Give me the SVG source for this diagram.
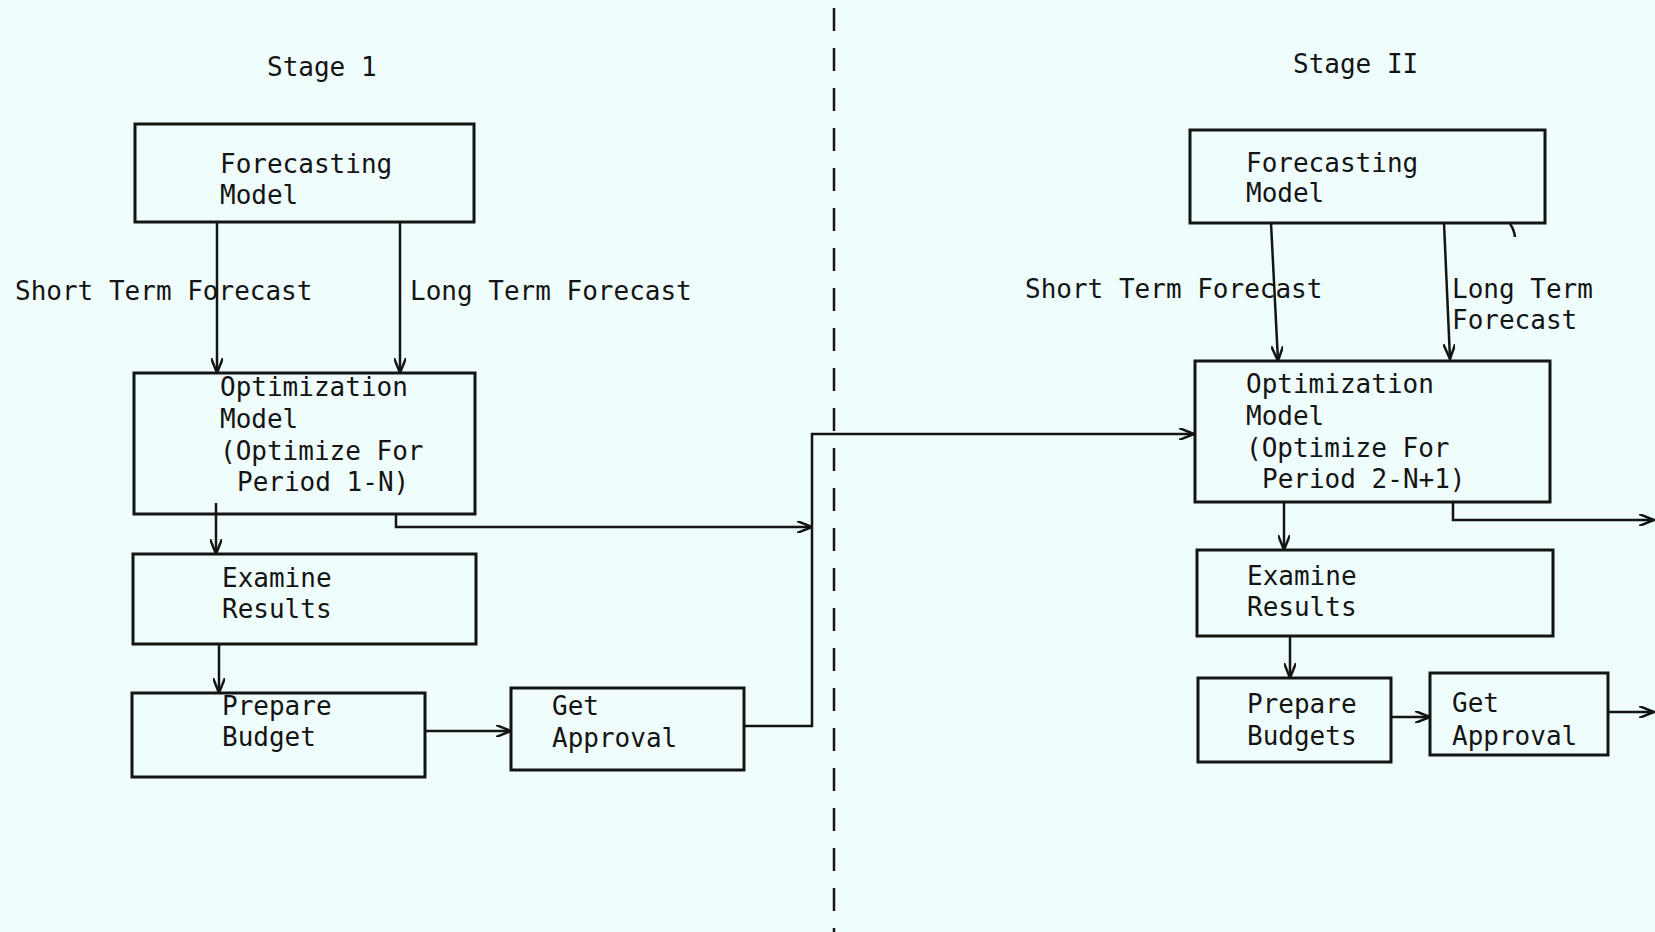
<svg xmlns="http://www.w3.org/2000/svg" width="1655" height="932" viewBox="0 0 1655 932">
<defs>
<style>
.bg{fill:#effdfd}
.box{fill:none;stroke:#141414;stroke-width:3}
.ln{fill:none;stroke:#141414;stroke-width:2.5}
.t{font-family:"DejaVu Sans Mono",monospace;font-size:26px;fill:#141414}
.dash{fill:none;stroke:#141414;stroke-width:2.5;stroke-dasharray:23 17}
</style>
<marker id="ah" viewBox="0 0 16 12" refX="15" refY="6" markerWidth="16" markerHeight="12" markerUnits="userSpaceOnUse" orient="auto">
<path d="M0,0 L15,6 L0,12" fill="none" stroke="#141414" stroke-width="2.5"/>
</marker>
</defs>
<rect class="bg" x="0" y="0" width="1655" height="932"/>

<text class="t" x="267" y="76">Stage 1</text>
<text class="t" x="1293" y="73">Stage II</text>

<g id="divider">
<line class="dash" x1="834" y1="8" x2="834" y2="932"/>
</g>

<g id="s1-forecast">
<rect class="box" x="135" y="124" width="339" height="98"/>
<text class="t" x="220" y="173">Forecasting</text>
<text class="t" x="220" y="204">Model</text>
</g>
<g id="s1-optimize">
<rect class="box" x="134" y="373" width="341" height="141"/>
<text class="t" x="220" y="396">Optimization</text>
<text class="t" x="220" y="428">Model</text>
<text class="t" x="220" y="460">(Optimize For</text>
<text class="t" x="237" y="491">Period 1-N)</text>
</g>
<g id="s1-examine">
<rect class="box" x="133" y="554" width="343" height="90"/>
<text class="t" x="222" y="587">Examine</text>
<text class="t" x="222" y="618">Results</text>
</g>
<g id="s1-prepare">
<rect class="box" x="132" y="693" width="293" height="84"/>
<text class="t" x="222" y="715">Prepare</text>
<text class="t" x="222" y="746">Budget</text>
</g>
<g id="s1-approval">
<rect class="box" x="511" y="688" width="233" height="82"/>
<text class="t" x="552" y="715">Get</text>
<text class="t" x="552" y="747">Approval</text>
</g>

<g id="s2-forecast">
<rect class="box" x="1190" y="130" width="355" height="93"/>
<text class="t" x="1246" y="172">Forecasting</text>
<text class="t" x="1246" y="202">Model</text>
</g>
<g id="s2-optimize">
<rect class="box" x="1195" y="361" width="355" height="141"/>
<text class="t" x="1246" y="393">Optimization</text>
<text class="t" x="1246" y="425">Model</text>
<text class="t" x="1246" y="457">(Optimize For</text>
<text class="t" x="1262" y="488">Period 2-N+1)</text>
</g>
<g id="s2-examine">
<rect class="box" x="1197" y="550" width="356" height="86"/>
<text class="t" x="1247" y="585">Examine</text>
<text class="t" x="1247" y="616">Results</text>
</g>
<g id="s2-prepare">
<rect class="box" x="1198" y="678" width="193" height="84"/>
<text class="t" x="1247" y="713">Prepare</text>
<text class="t" x="1247" y="745">Budgets</text>
</g>
<g id="s2-approval">
<rect class="box" x="1430" y="673" width="178" height="82"/>
<text class="t" x="1452" y="712">Get</text>
<text class="t" x="1452" y="745">Approval</text>
</g>

<g id="connectors">
<line class="ln" x1="217" y1="222" x2="217" y2="373" marker-end="url(#ah)"/>
<line class="ln" x1="400" y1="222" x2="400" y2="373" marker-end="url(#ah)"/>
<text class="t" x="15" y="300">Short Term Forecast</text>
<text class="t" x="410" y="300">Long Term Forecast</text>
<line class="ln" x1="216" y1="503" x2="216" y2="554" marker-end="url(#ah)"/>
<line class="ln" x1="219" y1="644" x2="219" y2="693" marker-end="url(#ah)"/>
<line class="ln" x1="425" y1="731" x2="511" y2="731" marker-end="url(#ah)"/>
<polyline class="ln" points="396,514 396,527 812,527" marker-end="url(#ah)"/>
<polyline class="ln" points="744,726 812,726 812,434 1194,434" marker-end="url(#ah)"/>

<line class="ln" x1="1271" y1="223" x2="1278" y2="361" marker-end="url(#ah)"/>
<line class="ln" x1="1444" y1="223" x2="1450" y2="359" marker-end="url(#ah)"/>
<text class="t" x="1025" y="298">Short Term Forecast</text>
<text class="t" x="1452" y="298">Long Term</text>
<text class="t" x="1452" y="329">Forecast</text>
<path class="ln" d="M1510,224 Q1514,229 1515,237"/>
<polyline class="ln" points="1453,502 1453,520 1654,520" marker-end="url(#ah)"/>
<line class="ln" x1="1284" y1="502" x2="1284" y2="550" marker-end="url(#ah)"/>
<line class="ln" x1="1290" y1="636" x2="1290" y2="678" marker-end="url(#ah)"/>
<line class="ln" x1="1391" y1="717" x2="1430" y2="717" marker-end="url(#ah)"/>
<line class="ln" x1="1608" y1="712" x2="1654" y2="712" marker-end="url(#ah)"/>
</g>
</svg>
